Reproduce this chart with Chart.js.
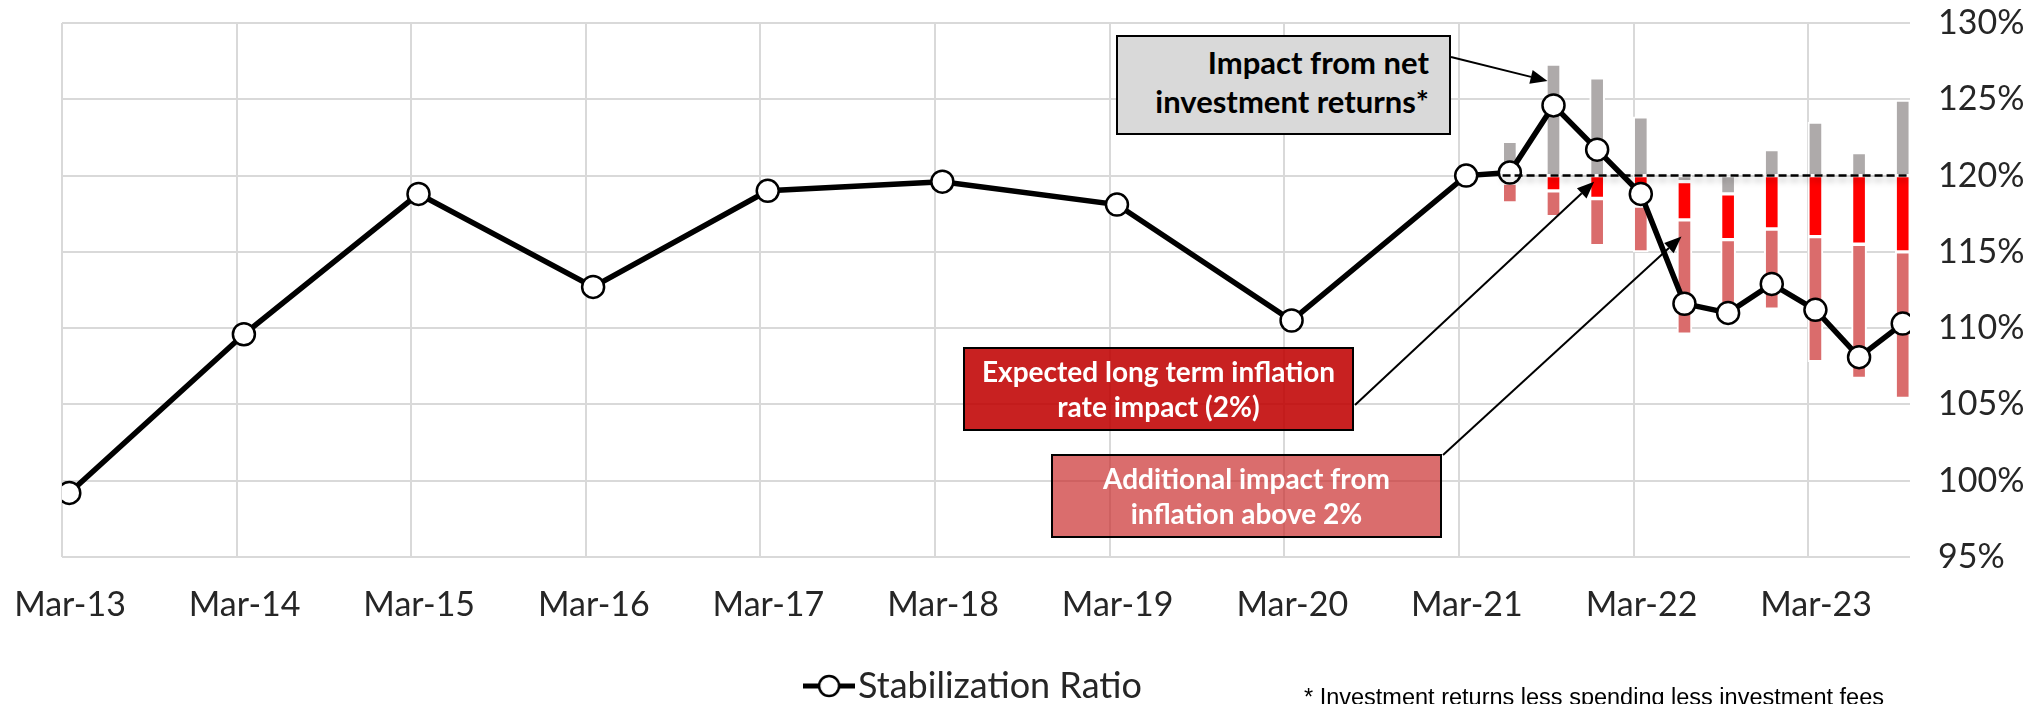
<!DOCTYPE html>
<html>
<head>
<meta charset="utf-8">
<script src="https://cdn.jsdelivr.net/npm/chart.js@4.4.1/dist/chart.umd.min.js"></script>
<style>
  html, body { margin: 0; padding: 0; background: #fff; }
  #wrap { position: relative; width: 2044px; height: 704px; overflow: hidden; }
  #chart { display: block; }
  .note {
    position: absolute; box-sizing: border-box; border: 2px solid #000;
    font-family: Lato, 'Open Sans', sans-serif; font-weight: bold; font-size: 28px; line-height: 35px;
    display: flex; flex-direction: column; justify-content: center;
  }
  #noteInvest { left: 1116px; top: 35px; width: 335px; height: 100px; background: #d9d9d9; color: #000; text-align: right; padding-right: 20px; padding-bottom: 6px; font-size: 31px; line-height: 39px; }
  #noteBase { left: 963px; top: 347px; width: 391px; height: 84px; background: rgba(192,0,0,0.87); color: #fff; text-align: center; }
  #noteExtra { left: 1051px; top: 454px; width: 391px; height: 84px; background: rgba(200,40,40,0.68); color: #fff; text-align: center; }
  #footnote { position: absolute; left: 1304px; top: 684px; font-family: 'Liberation Sans', Arial, sans-serif; font-size: 23.5px; color: #000; white-space: nowrap; }
</style>
</head>
<body>
<div id="wrap">
  <canvas id="chart" width="2044" height="704"></canvas>
  <div class="note" id="noteInvest"><span>Impact from net</span><span>investment returns*</span></div>
  <div class="note" id="noteBase"><span>Expected long term inflation</span><span>rate impact (2%)</span></div>
  <div class="note" id="noteExtra"><span>Additional impact from</span><span>inflation above 2%</span></div>
  <div id="footnote">* Investment returns less spending less investment fees</div>
</div>
<script>
// stabilization ratio, %
const ratioDates = ['Mar-13', 'Mar-14', 'Mar-15', 'Mar-16', 'Mar-17', 'Mar-18', 'Mar-19', 'Mar-20', 'Mar-21',
  'Jun-21', 'Sep-21', 'Dec-21', 'Mar-22', 'Jun-22', 'Sep-22', 'Dec-22', 'Mar-23', 'Jun-23', 'Sep-23'];
const ratioValues = [99.2, 109.6, 118.8, 112.7, 119.0, 119.6, 118.1, 110.5, 120.0,
  120.2, 124.6, 121.7, 118.8, 111.6, 111.0, 112.9, 111.2, 108.1, 110.3];

// quarterly impacts against the 120% target, percentage points
const impactDates = ['Jun-21', 'Sep-21', 'Dec-21', 'Mar-22', 'Jun-22', 'Sep-22', 'Dec-22', 'Mar-23', 'Jun-23', 'Sep-23'];
const investImpact = [2.25, 7.3, 6.4, 3.85, -0.4, -1.2, 1.7, 3.5, 1.5, 4.95];
const baseInflation = [0.5, 1.0, 1.5, 2.0, 2.5, 3.0, 3.5, 4.0, 4.5, 5.0];
const extraInflation = [1.3, 1.7, 3.1, 3.0, 7.5, 4.2, 5.25, 8.2, 8.8, 9.6];
const targetRatio = 120;
const targetFrom = 'Jun-21';

const tickLabels = ['Mar-13', 'Mar-14', 'Mar-15', 'Mar-16', 'Mar-17', 'Mar-18', 'Mar-19', 'Mar-20', 'Mar-21', 'Mar-22', 'Mar-23'];
const yTicks = [95, 100, 105, 110, 115, 120, 125, 130];

// x axis runs in months from 1 Mar 2013, values sit mid-month
const MONTH_OFFSET = { Mar: 0, Jun: 3, Sep: 6, Dec: 9 };
const MID = 0.5;
const X_MAX = 127;
function monthsFromStart(label, day) {
  const [mon, yy] = label.split('-');
  return (Number(yy) - 13) * 12 + MONTH_OFFSET[mon] + day;
}

const barX = impactDates.map(d => monthsFromStart(d, MID));
const investBars = investImpact.map((v, i) => ({ x: barX[i], y: [targetRatio, targetRatio + v] }));
const baseBars = baseInflation.map((v, i) => {
  const top = targetRatio + Math.min(investImpact[i], 0);
  return { x: barX[i], y: [top - v, top] };
});
const extraBars = extraInflation.map((v, i) => {
  const top = targetRatio + Math.min(investImpact[i], 0) - baseInflation[i];
  return { x: barX[i], y: [top - v, top] };
});

const arrowNotes = [
  { from: [1451, 57], date: 'Sep-21', value: 126.2, dx: -6 },
  { from: [1355, 405], date: 'Dec-21', value: 119.6, dx: -3 },
  { from: [1443, 455], date: 'Jun-22', value: 116.0, dx: -3 }
];

// legend marker: line with open circle
const marker = document.createElement('canvas');
marker.width = 52; marker.height = 26;
(() => {
  const c = marker.getContext('2d');
  c.strokeStyle = '#000'; c.lineWidth = 5;
  c.beginPath(); c.moveTo(0, 13); c.lineTo(52, 13); c.stroke();
  c.beginPath(); c.arc(26, 13, 10, 0, Math.PI * 2);
  c.fillStyle = '#fff'; c.fill(); c.lineWidth = 2.5; c.stroke();
})();

function drawArrow(ctx, x1, y1, x2, y2) {
  const a = Math.atan2(y2 - y1, x2 - x1), head = 17, w = 7;
  const bx = x2 - head * Math.cos(a), by = y2 - head * Math.sin(a);
  ctx.beginPath(); ctx.moveTo(x1, y1); ctx.lineTo(bx, by); ctx.stroke();
  ctx.beginPath();
  ctx.moveTo(x2, y2);
  ctx.lineTo(bx + w * Math.sin(a), by - w * Math.cos(a));
  ctx.lineTo(bx - w * Math.sin(a), by + w * Math.cos(a));
  ctx.closePath(); ctx.fill();
}

const notesPlugin = {
  id: 'notes',
  beforeDatasetDraw(chart, args) {
    if (args.index === 1) {
      const ctx = chart.ctx;
      ctx.save();
      ctx.shadowColor = 'rgba(0,0,0,0.35)';
      ctx.shadowBlur = 6;
      ctx.shadowOffsetY = 4;
    }
  },
  afterDatasetDraw(chart, args) {
    if (args.index === 1) chart.ctx.restore();
  },
  afterDatasetsDraw(chart) {
    const { ctx, scales: { x, y } } = chart;
    ctx.save();
    ctx.strokeStyle = '#000'; ctx.fillStyle = '#000'; ctx.lineWidth = 2;
    arrowNotes.forEach(n => {
      const tx = x.getPixelForValue(monthsFromStart(n.date, MID)) + n.dx;
      drawArrow(ctx, n.from[0], n.from[1], tx, y.getPixelForValue(n.value));
    });
    ctx.restore();
  },
  afterLayout(chart) {
    const lg = chart.legend;
    lg.left -= 73; lg.right -= 73;
    lg.top += 10; lg.bottom += 10;
  }
};

const tickFont = { family: 'Lato', size: 34 };

new Chart(document.getElementById('chart'), {
  type: 'bar',
  data: {
    datasets: [
      {
        type: 'line', label: 'Stabilization Ratio', order: 0,
        data: ratioDates.map((d, i) => ({ x: monthsFromStart(d, MID), y: ratioValues[i] })),
        borderColor: '#000', borderWidth: 5.5, tension: 0,
        pointRadius: 11, pointBorderWidth: 2.5, pointBackgroundColor: '#fff', pointBorderColor: '#000'
      },
      {
        type: 'line', label: 'Target', order: -1,
        data: [{ x: monthsFromStart(targetFrom, 0), y: targetRatio }, { x: X_MAX, y: targetRatio }],
        borderColor: '#000', borderWidth: 2.5, borderDash: [8, 4], pointRadius: 0
      },
      { label: 'Net investment returns', order: 2, data: investBars, backgroundColor: '#aeaaaa' },
      { label: 'Long term inflation (2%)', order: 2, data: baseBars, backgroundColor: '#ff0000' },
      { label: 'Inflation above 2%', order: 2, data: extraBars, backgroundColor: '#da6c6c' }
    ]
  },
  options: {
    responsive: false,
    animation: false,
    devicePixelRatio: 1,
    layout: { padding: { top: 23, left: 62, right: 0, bottom: 0 } },
    datasets: {
      bar: { grouped: false, barThickness: 15, borderWidth: 2, borderColor: '#fff', borderSkipped: false }
    },
    scales: {
      x: {
        type: 'linear', min: 0, max: X_MAX, offset: false,
        grid: { color: '#d9d9d9', lineWidth: 2, drawTicks: false, offset: false },
        border: { display: false },
        afterBuildTicks: s => { s.ticks = tickLabels.map((_, i) => ({ value: i * 12 })); },
        afterFit: s => { s.height = 99; s.paddingLeft = 0; s.paddingRight = 0; },
        ticks: {
          autoSkip: false, maxRotation: 0, padding: 28, labelOffset: 8,
          color: '#262626', font: tickFont,
          callback: (v, i) => tickLabels[i]
        }
      },
      y: {
        position: 'right', min: yTicks[0], max: yTicks[yTicks.length - 1],
        grid: { color: '#d9d9d9', lineWidth: 2, drawTicks: false },
        border: { display: false },
        afterBuildTicks: s => { s.ticks = yTicks.map(v => ({ value: v })); },
        afterFit: s => { s.width = 134; s.paddingTop = 0; s.paddingBottom = 0; },
        ticks: { padding: 28, color: '#262626', font: tickFont, callback: v => v + '%' }
      }
    },
    plugins: {
      legend: {
        position: 'bottom',
        labels: {
          filter: item => item.datasetIndex === 0,
          usePointStyle: true, pointStyle: marker, pointStyleWidth: 22,
          padding: 2, color: '#262626', font: { family: 'Lato', size: 36 }
        }
      },
      tooltip: { enabled: false }
    }
  },
  plugins: [notesPlugin]
});
</script>
</body>
</html>
